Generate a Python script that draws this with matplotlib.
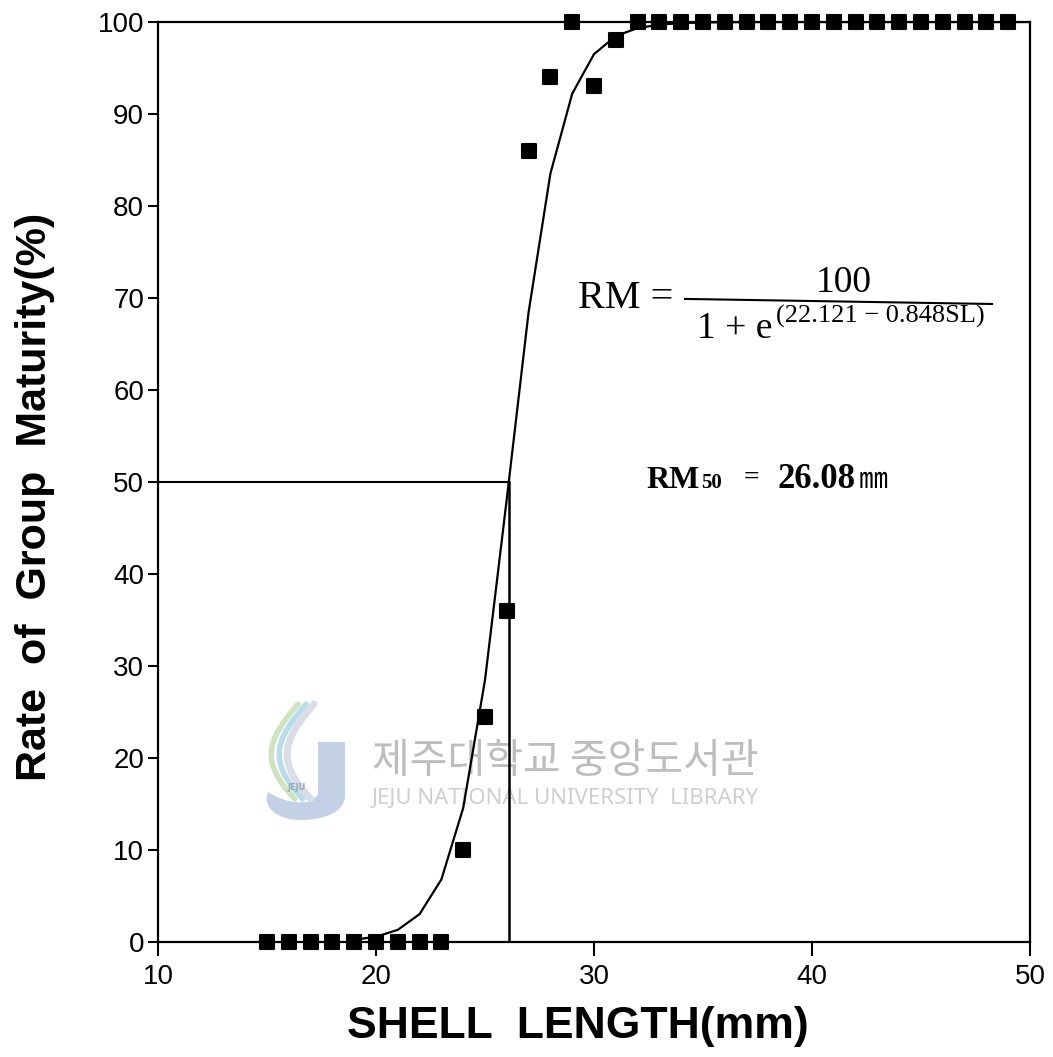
import numpy as np
import matplotlib
matplotlib.use("Agg")
import matplotlib.pyplot as plt
from matplotlib.markers import MarkerStyle
from matplotlib.patches import PathPatch
from matplotlib.path import Path

# Observed rate of group maturity by shell length class
shell_length = list(range(15, 50))
maturity_rate = [0, 0, 0, 0, 0, 0, 0, 0, 0,
                 10, 24.5, 36, 86, 94, 100, 93, 98,
                 100, 100, 100, 100, 100, 100, 100, 100, 100,
                 100, 100, 100, 100, 100, 100, 100, 100, 100]

# Logistic fit: RM = 100 / (1 + exp(a - b*SL))
fit_a = 22.121
fit_b = 0.848
fit_sl = list(range(19, 51))
rm50 = 26.08

x_ticks = [10, 20, 30, 40, 50]
y_ticks = [0, 10, 20, 30, 40, 50, 60, 70, 80, 90, 100]

W, H = 1053, 1057
fig = plt.figure(figsize=(W / 100, H / 100), dpi=100)

# Library watermark layer in pixel coordinates (behind the chart)
wm = fig.add_axes([0, 0, 1, 1], zorder=0)
wm.set_xlim(0, W)
wm.set_ylim(H, 0)
wm.axis("off")
j_path = Path([(318, 742), (345, 742), (345, 795), (345, 812), (325, 820),
               (300, 820), (278, 820), (262, 808), (268, 792),
               (280, 800), (300, 806), (312, 800), (318, 795), (318, 742)],
              [Path.MOVETO, Path.LINETO, Path.LINETO, Path.CURVE4, Path.CURVE4,
               Path.CURVE4, Path.CURVE4, Path.CURVE4, Path.CURVE4,
               Path.CURVE4, Path.CURVE4, Path.CURVE4, Path.LINETO, Path.CLOSEPOLY])
wm.add_patch(PathPatch(j_path, facecolor="#c3d0e6", edgecolor="none"))
for dx, col, lw in [(0, "#cfe3c2", 4), (8, "#b9dcea", 4), (16, "#d9dde6", 5)]:
    t = np.linspace(0, 1, 40)
    xs = 298 + dx - 30 * np.sin(t * np.pi * 0.9) + 6 * t
    ys = 704 + 95 * t
    wm.plot(xs, ys, color=col, lw=lw, solid_capstyle="round")
wm.text(297, 788, "JEJU", fontsize=6, color="#9aa7b8", ha="center", va="center",
        family="DejaVu Sans", weight="bold")
wm.text(372, 762, "제주대학교 중앙도서관", fontsize=29.5, color="#bdbdbd",
        ha="left", va="center", family=["Noto Sans CJK KR", "DejaVu Sans"])
wm.text(372, 799, "JEJU NATIONAL UNIVERSITY  LIBRARY", fontsize=16,
        color="#cfcfcf", ha="left", va="center", family="Noto Sans")

ax = fig.add_axes([158 / W, 1 - 942 / H, (1030 - 158) / W, (942 - 22) / H], zorder=1)
ax.set_facecolor("none")
ax.set_xlim(10, 50)
ax.set_ylim(0, 100)

# RM50 reference lines
ax.plot([10, rm50], [50, 50], color="black", lw=1.5, zorder=2)
ax.plot([rm50, rm50], [0, 50], color="black", lw=1.8, zorder=2)

# Fitted logistic curve
fit_x = np.array(fit_sl, dtype=float)
fit_y = 100.0 / (1.0 + np.exp(fit_a - fit_b * fit_x))
ax.plot(fit_x, fit_y, color="black", lw=1.6, zorder=3)

# Observed points
ax.plot(shell_length, maturity_rate, linestyle="none",
        marker=MarkerStyle("s", joinstyle="round"), markersize=9.5,
        markerfacecolor="black", markeredgecolor="black", markeredgewidth=1.5,
        zorder=4, clip_on=False)

for s in ax.spines.values():
    s.set_linewidth(1.6)
ax.set_xticks(x_ticks)
ax.set_yticks(y_ticks)
ax.tick_params(axis="both", direction="out", width=1.5, labelsize=20,
               colors="black")
ax.tick_params(axis="y", length=7, pad=3)
ax.tick_params(axis="x", length=10, pad=6)
for lab in ax.get_xticklabels() + ax.get_yticklabels():
    lab.set_family("Liberation Sans")

ax.set_xlabel("SHELL  LENGTH(mm)", fontsize=32, weight="bold",
              family="Liberation Sans")
ax.xaxis.set_label_coords(0.482, -0.07)
ax.set_ylabel("Rate  of  Group  Maturity(%)", fontsize=31, weight="bold",
              family="Liberation Sans")
ax.yaxis.set_label_coords(-0.118, 0.484)

# Fitted equation
serif = "Liberation Serif"
ax.text(29.27, 68.9, "RM =", fontsize=29, family=serif, ha="left",
        va="baseline")
ax.plot([34.17, 48.26], [69.9, 69.35], color="black", lw=1.5)
ax.text(41.47, 70.6, "100", fontsize=27, family=serif, ha="center",
        va="baseline")
ax.text(34.72, 65.65, "1 + e", fontsize=27, family=serif, ha="left",
        va="baseline")
ax.text(38.35, 67.3, "(22.121 − 0.848SL)", fontsize=19, family=serif,
        ha="left", va="baseline")

# RM50 annotation
ax.text(32.40, 49.4, "RM", fontsize=23, family=serif, weight="bold",
        ha="left", va="baseline")
ax.text(34.93, 49.4, "50", fontsize=15, family=serif, weight="bold",
        ha="left", va="baseline")
ax.text(36.85, 49.7, "=", fontsize=20, family=serif, weight="bold",
        ha="left", va="baseline")
ax.text(38.44, 49.4, "26.08", fontsize=25, family=serif, weight="bold",
        ha="left", va="baseline")
ax.text(42.15, 49.4, "㎜", fontsize=21, family=["Noto Sans CJK KR", "DejaVu Sans"],
        ha="left", va="baseline")

fig.savefig("out.png", dpi=100, facecolor="white")
